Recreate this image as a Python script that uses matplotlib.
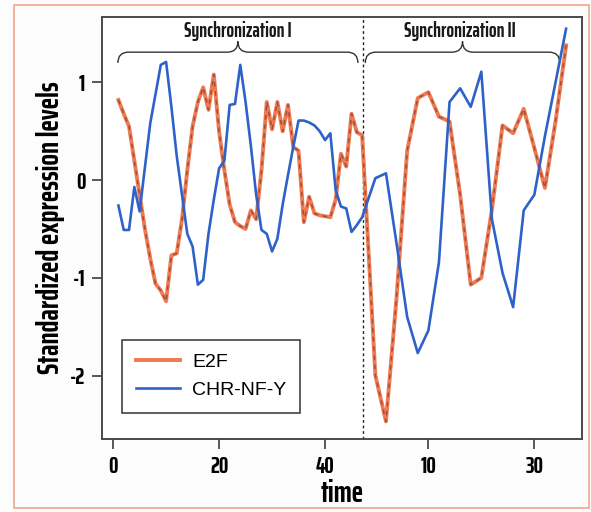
import matplotlib
matplotlib.use('Agg')
import matplotlib.pyplot as plt
from matplotlib.path import Path
from matplotlib.patches import PathPatch, Rectangle

# first synchronization: one sample per time unit
time1 = list(range(1, 48))
e2f_1 = [0.82, 0.68, 0.55, 0.2, -0.15, -0.5, -0.8, -1.06, -1.13, -1.24,
         -0.77, -0.75, -0.4, 0.1, 0.55, 0.8, 0.95, 0.72, 1.08, 0.5,
         0.1, -0.25, -0.43, -0.47, -0.5, -0.31, -0.4, 0.1, 0.8, 0.52,
         0.8, 0.5, 0.77, 0.34, 0.3, -0.43, -0.17, -0.34, -0.36, -0.37,
         -0.38, -0.2, 0.27, 0.14, 0.68, 0.49, 0.46]
nfy_1 = [-0.26, -0.51, -0.51, -0.07, -0.32, 0.13, 0.58, 0.88, 1.18, 1.21,
         0.75, 0.25, -0.15, -0.55, -0.68, -1.07, -1.02, -0.55, -0.2, 0.12,
         0.2, 0.77, 0.78, 1.18, 0.8, 0.35, -0.15, -0.51, -0.55, -0.73,
         -0.6, -0.25, 0.05, 0.34, 0.61, 0.61, 0.59, 0.56, 0.5, 0.41,
         0.48, -0.1, -0.27, -0.29, -0.53, -0.46, -0.38]

# second synchronization: sampled every 2 time units
time2 = [0, 2, 4, 6, 8, 10, 12, 14, 16, 18, 20, 22, 24, 26, 28, 30, 32, 34, 36]
e2f_2 = [-2.0, -2.47, -1.2, 0.3, 0.84, 0.9, 0.65, 0.6, -0.15, -1.07,
         -1.0, -0.3, 0.56, 0.48, 0.73, 0.33, -0.08, 0.6, 1.38]
nfy_2 = [0.02, 0.07, -0.65, -1.4, -1.77, -1.54, -0.84, 0.8, 0.94, 0.75,
         1.11, -0.4, -0.95, -1.3, -0.31, -0.15, 0.45, 1.0, 1.55]

offset2 = 49.5   # where time 0 of the second run sits on the shared axis
split_x = 47.2

x_all = time1 + [t + offset2 for t in time2]
e2f = e2f_1 + e2f_2
nfy = nfy_1 + nfy_2

narrow = ['Saira ExtraCondensed', 'DejaVu Sans']
plain = ['Liberation Sans', 'DejaVu Sans']
orange = '#f07a50'
blue = '#2f62c8'
frame = '#4a4a4a'

fig = plt.figure(figsize=(5.91, 5.12), dpi=100)
fig.patch.set_facecolor('#fcfcfd')
fig.patches.append(Rectangle((14 / 591, 4 / 512), 575 / 591, 503 / 512,
                             transform=fig.transFigure, fill=False,
                             edgecolor='#f2a58a', lw=1.2))
ax = fig.add_axes([102 / 591, 1 - 439 / 512, 480 / 591, 422 / 512])
ax.set_facecolor('white')

ax.plot(x_all, e2f, color=orange, lw=2.8, label='E2F', zorder=3)
ax.plot(x_all, e2f, color='#9c5040', lw=1.1, dashes=(3, 3), zorder=3.5)
ax.plot(x_all, nfy, color=blue, lw=1.9, label='CHR-NF-Y', zorder=4)

ax.axvline(split_x, color='#222222', lw=1.0, ls=(0, (2, 2)), zorder=2)

ax.set_xlim(-2.1, 88.5)
ax.set_ylim(-2.65, 1.67)

ax.set_xticks([0, 20, 40, 10 + offset2, 30 + offset2])
ax.set_xticklabels(['0', '20', '40', '10', '30'])
ax.set_yticks([1, 0, -1, -2])
ax.set_yticklabels(['1', '0', '-1', '-2'])
ax.tick_params(direction='out', length=7, width=1.3, color=frame, pad=5)
for lab in ax.get_xticklabels() + ax.get_yticklabels():
    lab.set_family(narrow)
    lab.set_fontweight('bold')
    lab.set_fontsize(17)
for sp in ax.spines.values():
    sp.set_color(frame)
    sp.set_linewidth(1.4)

ax.set_xlabel('time', family=narrow, fontweight='bold', fontsize=22, labelpad=1)
ax.set_ylabel('Standardized expression levels', family=narrow,
              fontweight='bold', fontsize=22, labelpad=4)


def brace(x1, x2, y, h, r):
    xm = (x1 + x2) / 2
    verts = [(x1, y - h), (x1, y), (x1 + r, y), (xm - r, y), (xm, y), (xm, y + h),
             (xm, y + h), (xm, y), (xm + r, y), (x2 - r, y), (x2, y), (x2, y - h)]
    codes = [Path.MOVETO, Path.CURVE3, Path.CURVE3, Path.LINETO, Path.CURVE3, Path.CURVE3,
             Path.MOVETO, Path.CURVE3, Path.CURVE3, Path.LINETO, Path.CURVE3, Path.CURVE3]
    ax.add_patch(PathPatch(Path(verts, codes), fill=False, edgecolor='#333333', lw=1.0))


brace(0.9, 46.2, 1.31, 0.11, 2.0)
brace(47.6, 84.3, 1.31, 0.11, 2.0)
ax.text(23.5, 1.53, 'Synchronization I', ha='center', va='center',
        family=narrow, fontweight='bold', fontsize=14.5, color='#1a1a1a')
ax.text(65.5, 1.53, 'Synchronization II', ha='center', va='center',
        family=narrow, fontweight='bold', fontsize=14.5, color='#1a1a1a')

leg = ax.legend(loc='lower left', bbox_to_anchor=(0.042, 0.062), borderaxespad=0,
                fancybox=False, edgecolor='#333333', prop={'family': plain, 'size': 14},
                handlelength=2.3, handletextpad=0.6, borderpad=0.7,
                labelspacing=0.55, framealpha=1)
leg.get_frame().set_linewidth(1.1)

fig.savefig('out.png', dpi=100, facecolor=fig.get_facecolor())
